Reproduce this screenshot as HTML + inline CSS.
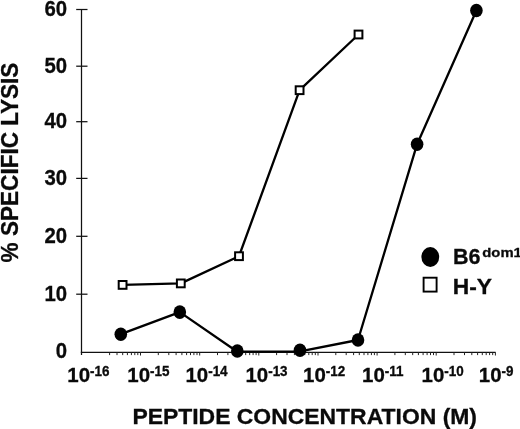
<!DOCTYPE html><html><head><meta charset="utf-8"><title>Specific lysis vs peptide concentration</title>
<style>html,body{margin:0;padding:0;background:#fff}svg{display:block}text{font-family:"Liberation Sans",sans-serif;font-weight:bold;fill:#0a0a0a;stroke:#0a0a0a;stroke-width:0.3px}</style></head><body>
<svg width="520" height="429" viewBox="0 0 520 429">
<rect width="520" height="429" fill="#fff"/>
<g stroke="#111" stroke-width="1.25" fill="none">
<line x1="81.5" y1="9" x2="81.5" y2="355"/>
<line x1="80.8" y1="352.3" x2="495.6" y2="352.3"/>
<line x1="76.2" y1="9.5" x2="87.5" y2="9.5"/>
<line x1="76.2" y1="66.2" x2="87.5" y2="66.2"/>
<line x1="76.2" y1="121.7" x2="87.5" y2="121.7"/>
<line x1="76.2" y1="178.4" x2="87.5" y2="178.4"/>
<line x1="76.2" y1="236.3" x2="87.5" y2="236.3"/>
<line x1="76.2" y1="294.2" x2="87.5" y2="294.2"/>
</g>
<g stroke="#222" stroke-width="1" fill="none">
<line x1="109.6" y1="352.3" x2="109.6" y2="355.1"/>
<line x1="117.0" y1="352.3" x2="117.0" y2="355.1"/>
<line x1="122.7" y1="352.3" x2="122.7" y2="355.1"/>
<line x1="127.4" y1="352.3" x2="127.4" y2="355.1"/>
<line x1="131.4" y1="352.3" x2="131.4" y2="355.1"/>
<line x1="134.8" y1="352.3" x2="134.8" y2="355.1"/>
<line x1="137.8" y1="352.3" x2="137.8" y2="355.1"/>
<line x1="140.5" y1="352.3" x2="140.5" y2="355.5"/>
<line x1="158.3" y1="352.3" x2="158.3" y2="355.1"/>
<line x1="168.8" y1="352.3" x2="168.8" y2="355.1"/>
<line x1="176.1" y1="352.3" x2="176.1" y2="355.1"/>
<line x1="181.9" y1="352.3" x2="181.9" y2="355.1"/>
<line x1="186.6" y1="352.3" x2="186.6" y2="355.1"/>
<line x1="190.5" y1="352.3" x2="190.5" y2="355.1"/>
<line x1="193.9" y1="352.3" x2="193.9" y2="355.1"/>
<line x1="197.0" y1="352.3" x2="197.0" y2="355.1"/>
<line x1="199.7" y1="352.3" x2="199.7" y2="355.5"/>
<line x1="217.5" y1="352.3" x2="217.5" y2="355.1"/>
<line x1="227.9" y1="352.3" x2="227.9" y2="355.1"/>
<line x1="235.3" y1="352.3" x2="235.3" y2="355.1"/>
<line x1="241.0" y1="352.3" x2="241.0" y2="355.1"/>
<line x1="245.7" y1="352.3" x2="245.7" y2="355.1"/>
<line x1="249.7" y1="352.3" x2="249.7" y2="355.1"/>
<line x1="253.1" y1="352.3" x2="253.1" y2="355.1"/>
<line x1="256.1" y1="352.3" x2="256.1" y2="355.1"/>
<line x1="258.8" y1="352.3" x2="258.8" y2="355.5"/>
<line x1="276.6" y1="352.3" x2="276.6" y2="355.1"/>
<line x1="287.0" y1="352.3" x2="287.0" y2="355.1"/>
<line x1="294.4" y1="352.3" x2="294.4" y2="355.1"/>
<line x1="300.2" y1="352.3" x2="300.2" y2="355.1"/>
<line x1="304.8" y1="352.3" x2="304.8" y2="355.1"/>
<line x1="308.8" y1="352.3" x2="308.8" y2="355.1"/>
<line x1="312.2" y1="352.3" x2="312.2" y2="355.1"/>
<line x1="315.3" y1="352.3" x2="315.3" y2="355.1"/>
<line x1="318.0" y1="352.3" x2="318.0" y2="355.5"/>
<line x1="335.8" y1="352.3" x2="335.8" y2="355.1"/>
<line x1="346.2" y1="352.3" x2="346.2" y2="355.1"/>
<line x1="353.6" y1="352.3" x2="353.6" y2="355.1"/>
<line x1="359.3" y1="352.3" x2="359.3" y2="355.1"/>
<line x1="364.0" y1="352.3" x2="364.0" y2="355.1"/>
<line x1="367.9" y1="352.3" x2="367.9" y2="355.1"/>
<line x1="371.4" y1="352.3" x2="371.4" y2="355.1"/>
<line x1="374.4" y1="352.3" x2="374.4" y2="355.1"/>
<line x1="377.1" y1="352.3" x2="377.1" y2="355.5"/>
<line x1="394.9" y1="352.3" x2="394.9" y2="355.1"/>
<line x1="405.3" y1="352.3" x2="405.3" y2="355.1"/>
<line x1="412.7" y1="352.3" x2="412.7" y2="355.1"/>
<line x1="418.4" y1="352.3" x2="418.4" y2="355.1"/>
<line x1="423.1" y1="352.3" x2="423.1" y2="355.1"/>
<line x1="427.1" y1="352.3" x2="427.1" y2="355.1"/>
<line x1="430.5" y1="352.3" x2="430.5" y2="355.1"/>
<line x1="433.5" y1="352.3" x2="433.5" y2="355.1"/>
<line x1="436.2" y1="352.3" x2="436.2" y2="355.5"/>
<line x1="454.0" y1="352.3" x2="454.0" y2="355.1"/>
<line x1="464.5" y1="352.3" x2="464.5" y2="355.1"/>
<line x1="471.8" y1="352.3" x2="471.8" y2="355.1"/>
<line x1="477.6" y1="352.3" x2="477.6" y2="355.1"/>
<line x1="482.3" y1="352.3" x2="482.3" y2="355.1"/>
<line x1="486.2" y1="352.3" x2="486.2" y2="355.1"/>
<line x1="489.6" y1="352.3" x2="489.6" y2="355.1"/>
<line x1="492.7" y1="352.3" x2="492.7" y2="355.1"/>
<line x1="495.4" y1="352.3" x2="495.4" y2="355.5"/>
</g>
<text transform="translate(67.0,15.8) scale(0.955,1)" font-size="21.3" text-anchor="end">60</text>
<text transform="translate(67.0,72.9) scale(0.955,1)" font-size="21.3" text-anchor="end">50</text>
<text transform="translate(67.0,128.4) scale(0.955,1)" font-size="21.3" text-anchor="end">40</text>
<text transform="translate(67.0,185.1) scale(0.955,1)" font-size="21.3" text-anchor="end">30</text>
<text transform="translate(67.0,243.0) scale(0.955,1)" font-size="21.3" text-anchor="end">20</text>
<text transform="translate(67.0,300.9) scale(0.955,1)" font-size="21.3" text-anchor="end">10</text>
<text transform="translate(67.0,358.1) scale(0.955,1)" font-size="21.3" text-anchor="end">0</text>
<text transform="translate(67.3,382.1) scale(0.975,1)" font-size="21">10<tspan font-size="13.8" dy="-6.2">-16</tspan></text>
<text transform="translate(127.3,382.1) scale(0.975,1)" font-size="21">10<tspan font-size="13.8" dy="-6.2">-15</tspan></text>
<text transform="translate(185.4,382.1) scale(0.975,1)" font-size="21">10<tspan font-size="13.8" dy="-6.2">-14</tspan></text>
<text transform="translate(245.4,382.1) scale(0.975,1)" font-size="21">10<tspan font-size="13.8" dy="-6.2">-13</tspan></text>
<text transform="translate(303.1,382.1) scale(0.975,1)" font-size="21">10<tspan font-size="13.8" dy="-6.2">-12</tspan></text>
<text transform="translate(362.0,382.1) scale(0.975,1)" font-size="21">10<tspan font-size="13.8" dy="-6.2">-11</tspan></text>
<text transform="translate(421.5,382.1) scale(0.975,1)" font-size="21">10<tspan font-size="13.8" dy="-6.2">-10</tspan></text>
<text transform="translate(478.8,382.1) scale(0.975,1)" font-size="21">10<tspan font-size="13.8" dy="-6.2">-9</tspan></text>
<g stroke="#000" stroke-width="2.3" fill="none" stroke-linejoin="round">
<polyline points="122.6,284.9 180.8,283.4 239,256.2 299.6,90.2 358.5,34.5"/>
<polyline points="120.8,334.2 179.8,312.1 237.3,351.7 300,351.3 358,340 417.1,144.2 476.4,10.5"/>
</g>
<rect x="118.7" y="281.0" width="7.8" height="7.8" fill="#fff" stroke="#000" stroke-width="2"/>
<rect x="176.9" y="279.5" width="7.8" height="7.8" fill="#fff" stroke="#000" stroke-width="2"/>
<rect x="235.1" y="252.3" width="7.8" height="7.8" fill="#fff" stroke="#000" stroke-width="2"/>
<rect x="295.7" y="86.3" width="7.8" height="7.8" fill="#fff" stroke="#000" stroke-width="2"/>
<rect x="354.6" y="30.6" width="7.8" height="7.8" fill="#fff" stroke="#000" stroke-width="2"/>
<ellipse cx="120.8" cy="334.2" rx="6.3" ry="6.8" fill="#000"/>
<ellipse cx="179.8" cy="312.1" rx="6.3" ry="6.8" fill="#000"/>
<ellipse cx="237.3" cy="351" rx="6.3" ry="6.8" fill="#000"/>
<ellipse cx="300" cy="350.3" rx="6.3" ry="6.8" fill="#000"/>
<ellipse cx="358" cy="340" rx="6.3" ry="6.8" fill="#000"/>
<ellipse cx="417.1" cy="144.2" rx="6.3" ry="6.8" fill="#000"/>
<ellipse cx="476.4" cy="10.5" rx="6.3" ry="6.8" fill="#000"/>
<ellipse cx="430.3" cy="257.0" rx="8.9" ry="10" fill="#000"/>
<rect x="423.6" y="277.7" width="13" height="13.9" fill="#fff" stroke="#000" stroke-width="1.9"/>
<text transform="translate(452.9,264.4) scale(0.946,1)" font-size="22.8">B6</text>
<text transform="translate(482.3,257.3) scale(1.09,1)" font-size="13.6">dom1</text>
<text transform="translate(452.7,293.6) scale(1.0,1)" font-size="22.8">H-Y</text>
<text x="132.4" y="424.2" font-size="22" textLength="344.6" lengthAdjust="spacingAndGlyphs" xml:space="preserve">PEPTIDE CONCENTRATION (M)</text>
<text transform="translate(17.8,262.4) rotate(-90)" font-size="23.2" textLength="199.8" lengthAdjust="spacingAndGlyphs" xml:space="preserve">% SPECIFIC LYSIS</text>
</svg></body></html>
